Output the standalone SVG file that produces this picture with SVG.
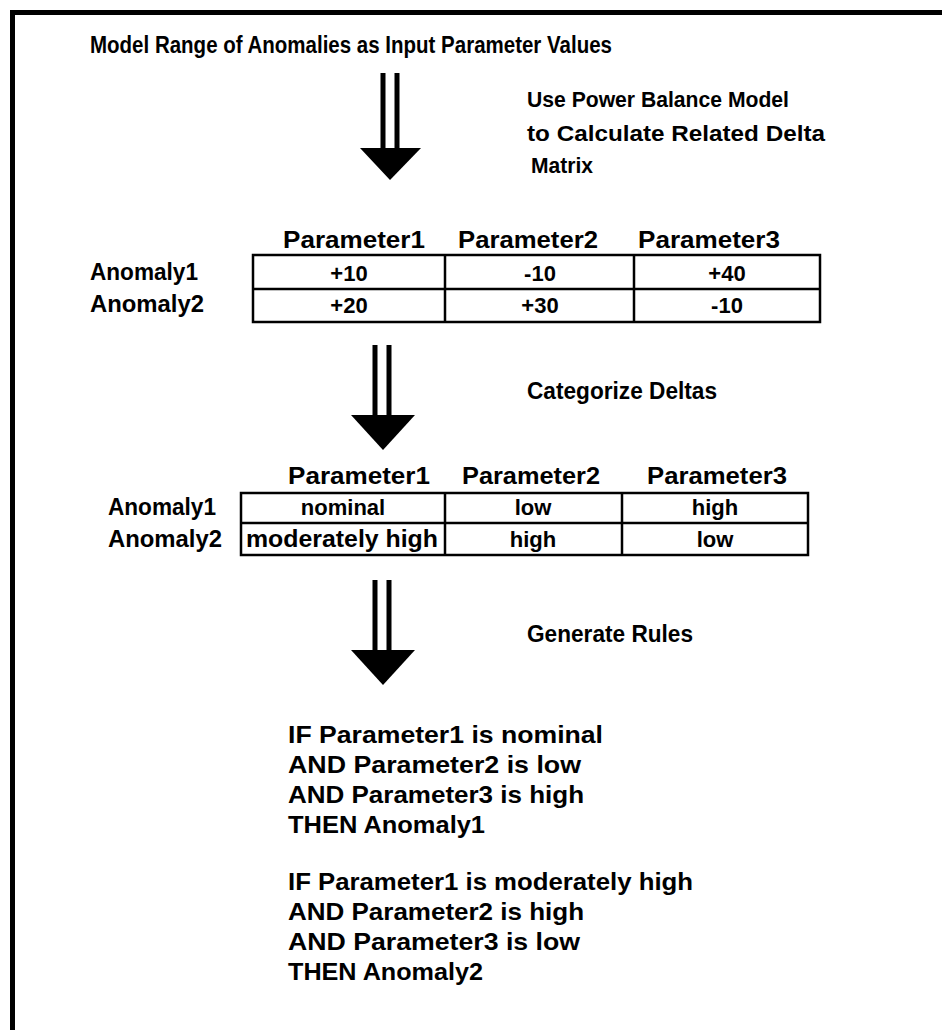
<svg xmlns="http://www.w3.org/2000/svg" width="942" height="1030" viewBox="0 0 942 1030">
<style>
text{font-family:"Liberation Sans",Arial,sans-serif;font-size:23px;font-weight:bold;fill:#000}
.c{text-anchor:middle;font-size:22px}
.r{font-size:24px}
.l{font-size:22px}
.cell{fill:none;stroke:#000;stroke-width:2.5}
.shaft{stroke:#000;stroke-width:5}
</style>
<rect width="942" height="1030" fill="#fff"/>
<g id="frame"><path d="M12.5,1030 V12.5 H942" fill="none" stroke="#000" stroke-width="5"/></g>
<g id="title"><text x="90" y="53" textLength="522" lengthAdjust="spacingAndGlyphs">Model Range of Anomalies as Input Parameter Values</text></g>
<g id="label-model">
<text class="l" x="527" y="107" textLength="262" lengthAdjust="spacingAndGlyphs">Use Power Balance Model</text>
<text class="l" x="527" y="141" textLength="298" lengthAdjust="spacingAndGlyphs">to Calculate Related Delta</text>
<text class="l" x="531" y="173" textLength="62" lengthAdjust="spacingAndGlyphs">Matrix</text>
</g>
<g id="table-deltas">
<text x="283" y="248" textLength="142" lengthAdjust="spacingAndGlyphs">Parameter1</text>
<text x="458" y="248" textLength="140" lengthAdjust="spacingAndGlyphs">Parameter2</text>
<text x="638" y="248" textLength="142" lengthAdjust="spacingAndGlyphs">Parameter3</text>
<text x="90" y="280" textLength="108" lengthAdjust="spacingAndGlyphs">Anomaly1</text>
<text x="90" y="312" textLength="114" lengthAdjust="spacingAndGlyphs">Anomaly2</text>
<rect class="cell" x="253" y="255" width="567" height="67"/>
<path class="cell" d="M253,289 H820 M445,255 V322 M634,255 V322"/>
<text class="c" x="349" y="281">+10</text>
<text class="c" x="540" y="281">-10</text>
<text class="c" x="727" y="281">+40</text>
<text class="c" x="349" y="313">+20</text>
<text class="c" x="540" y="313">+30</text>
<text class="c" x="727" y="313">-10</text>
</g>
<g id="label-cat"><text x="527" y="399" textLength="190" lengthAdjust="spacingAndGlyphs">Categorize Deltas</text></g>
<g id="table-cat">
<text x="288" y="484" textLength="142" lengthAdjust="spacingAndGlyphs">Parameter1</text>
<text x="462" y="484" textLength="138" lengthAdjust="spacingAndGlyphs">Parameter2</text>
<text x="647" y="484" textLength="140" lengthAdjust="spacingAndGlyphs">Parameter3</text>
<text x="108" y="515" textLength="108" lengthAdjust="spacingAndGlyphs">Anomaly1</text>
<text x="108" y="547" textLength="114" lengthAdjust="spacingAndGlyphs">Anomaly2</text>
<rect class="cell" x="241" y="493" width="567" height="62"/>
<path class="cell" d="M241,523 H808 M445,493 V555 M622,493 V555"/>
<text class="c" x="343" y="515">nominal</text>
<text class="c" x="533" y="515">low</text>
<text class="c" x="715" y="515">high</text>
<text x="246" y="547" textLength="192" lengthAdjust="spacingAndGlyphs">moderately high</text>
<text class="c" x="533" y="547">high</text>
<text class="c" x="715" y="547">low</text>
</g>
<g id="label-gen"><text x="527" y="642" textLength="166" lengthAdjust="spacingAndGlyphs">Generate Rules</text></g>
<g id="rules">
<text class="r" x="288" y="743" textLength="315" lengthAdjust="spacingAndGlyphs">IF Parameter1 is nominal</text>
<text class="r" x="288" y="773" textLength="293" lengthAdjust="spacingAndGlyphs">AND Parameter2 is low</text>
<text class="r" x="288" y="803" textLength="296" lengthAdjust="spacingAndGlyphs">AND Parameter3 is high</text>
<text class="r" x="288" y="833" textLength="197" lengthAdjust="spacingAndGlyphs">THEN Anomaly1</text>
<text class="r" x="288" y="890" textLength="405" lengthAdjust="spacingAndGlyphs">IF Parameter1 is moderately high</text>
<text class="r" x="288" y="920" textLength="296" lengthAdjust="spacingAndGlyphs">AND Parameter2 is high</text>
<text class="r" x="288" y="950" textLength="292" lengthAdjust="spacingAndGlyphs">AND Parameter3 is low</text>
<text class="r" x="288" y="980" textLength="195" lengthAdjust="spacingAndGlyphs">THEN Anomaly2</text>
</g>
<g id="connectors">
<path class="shaft" d="M383,73 V150 M397,73 V150"/><path d="M360,148 H421 L390,180 Z"/>
<path class="shaft" d="M375,345 V417 M389,345 V417"/><path d="M351,415 H415 L383,450 Z"/>
<path class="shaft" d="M375,580 V652 M389,580 V652"/><path d="M351,650 H415 L383,685 Z"/>
</g>
</svg>
